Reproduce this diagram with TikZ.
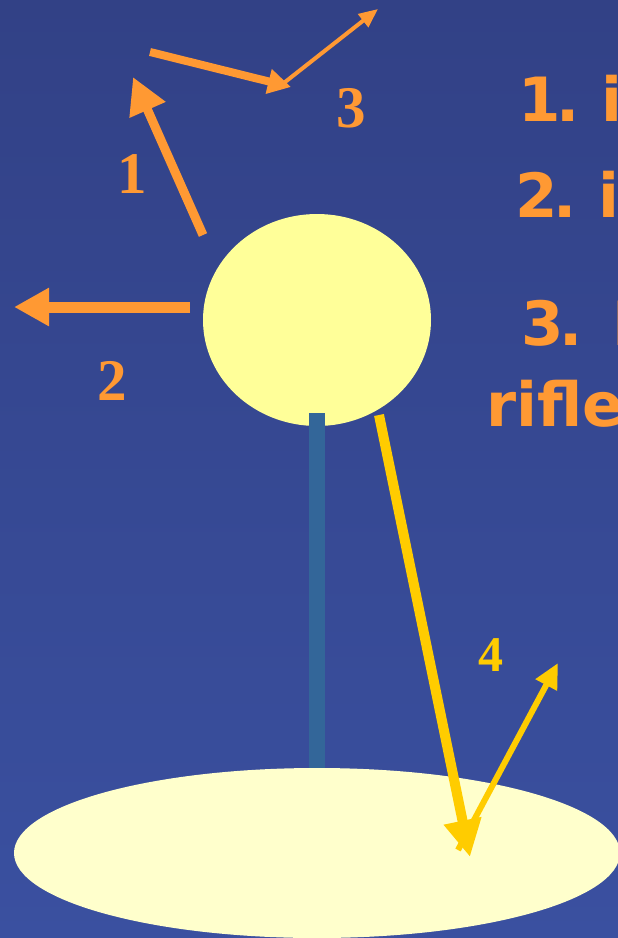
\documentclass[tikz,border=0pt]{standalone}
\usepackage{fontspec}
\setmainfont{Liberation Serif}
\newfontfamily\vsans{DejaVu Sans}
\usetikzlibrary{arrows.meta,shapes.geometric}
\definecolor{bgtop}{RGB}{50,65,134}
\definecolor{bgbot}{RGB}{58,80,160}
\definecolor{orng}{RGB}{255,153,51}
\definecolor{gold}{RGB}{255,204,0}
\definecolor{bulb}{RGB}{255,255,153}
\definecolor{plate}{RGB}{255,255,204}
\definecolor{stemc}{RGB}{51,102,153}
\begin{document}
\begin{tikzpicture}[x=1pt,y=-1pt,
  num/.style={font=\fontsize{59}{59}\selectfont\bfseries, inner sep=0pt},
  rtext/.style={font=\vsans\fontsize{61}{61}\selectfont\bfseries, text=orng, inner sep=0pt, anchor=base west},
  bigarrow/.style={draw=orng, line width=9pt, -{Triangle[length=36pt,width=37pt]}},
  midarrow/.style={draw=orng, line width=8pt, -{Triangle[length=23pt,width=24pt]}},
  thinarrow/.style={draw=orng, line width=4pt, -{Triangle[length=19pt,width=16pt]}},
  goldbig/.style={draw=gold, fill=gold, line width=10pt, -{Triangle[length=37pt,width=36pt]}},
  goldthin/.style={draw=gold, line width=6pt, -{Triangle[length=25pt,width=23pt]}}]
\useasboundingbox (0,0) rectangle (618,938);
\clip (0,0) rectangle (618,938);
\shade[top color=bgtop, bottom color=bgbot] (0,0) rectangle (618,938);

% lamp head and plate
\node (bulb) [ellipse, fill=bulb, minimum width=228pt, minimum height=212pt, inner sep=0pt] at (317,320) {};
\draw[stemc, line width=16pt] (317,413) -- (317,790);
\node (plate) [ellipse, fill=plate, minimum width=606pt, minimum height=170pt, inner sep=0pt] at (317,853) {};

% arrow 1
\coordinate (a1s) at (203,235);
\coordinate (a1e) at (133,77);
\draw[bigarrow] (a1s) -- (a1e);
% arrow 2
\coordinate (a2s) at (190,307);
\coordinate (a2e) at (14,307);
\draw[bigarrow, line width=11pt, -{Triangle[length=35pt,width=36pt]}] (a2s) -- (a2e);
% arrow 3
\coordinate (a3s) at (150,52);
\coordinate (a3e) at (291,87);
\coordinate (a3t) at (378,9);
\draw[midarrow] (a3s) -- (a3e);
\draw[thinarrow] (280,86) -- (a3t);
% arrow 4
\coordinate (a4s) at (379,415);
\coordinate (a4e) at (470,857);
\coordinate (a4t) at (558,663);
\draw[goldbig] (a4s) -- (a4e);
\draw[goldthin] (458,850) -- (a4t);

% labels
\node (l1) [num, text=orng] at (132,174) {1};
\node (l2) [num, text=orng] at (112,381) {2};
\node (l3) [num, text=orng] at (351,108) {3};
\node (l4) [num, text=gold, font=\fontsize{50}{50}\selectfont\bfseries] at (491,655) {4};

% right-hand text (cut off at the edge)
\node (t1) [rtext] at (518,121) {1\kern-4pt.\kern22pt i};
\node (t2) [rtext] at (515,217) {2\kern-4pt.\kern22pt i};
\node (t3) [rtext] at (521,345) {3\kern-4pt.\kern30pt I};
\node (t4) [rtext] at (486,426) {rifle};
\end{tikzpicture}
\end{document}
